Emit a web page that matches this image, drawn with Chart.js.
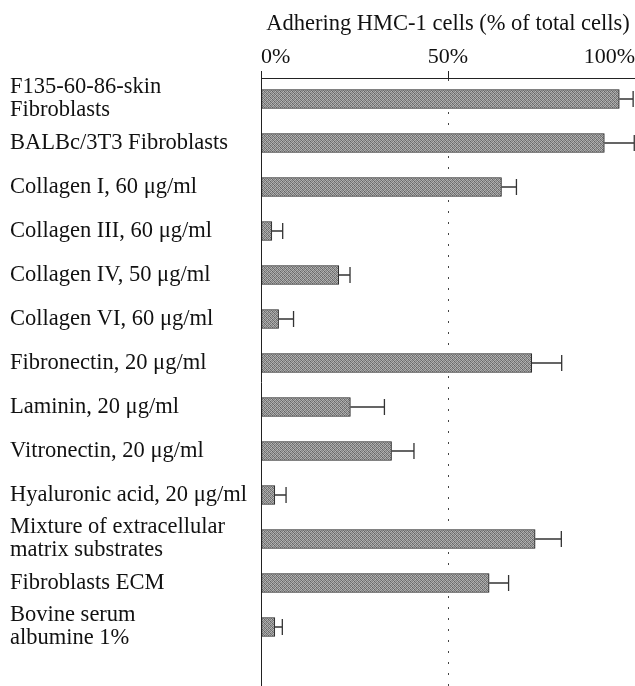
<!DOCTYPE html>
<html>
<head>
<meta charset="utf-8">
<script src="https://cdn.jsdelivr.net/npm/chart.js@4.4.1/dist/chart.umd.min.js"></script>
<style>
	html, body { margin: 0; padding: 0; background: #fff; }
	#wrap { width: 635px; height: 686px; position: relative; }
</style>
</head>
<body>
<div id="wrap"><canvas id="chart-adhesion"></canvas></div>
<script>
const categories = [
	["F135-60-86-skin", "Fibroblasts"],
	"BALBc/3T3 Fibroblasts",
	"Collagen I, 60 μg/ml",
	"Collagen III, 60 μg/ml",
	"Collagen IV, 50 μg/ml",
	"Collagen VI, 60 μg/ml",
	"Fibronectin, 20 μg/ml",
	"Laminin, 20 μg/ml",
	"Vitronectin, 20 μg/ml",
	"Hyaluronic acid, 20 μg/ml",
	["Mixture of extracellular", "matrix substrates"],
	"Fibroblasts ECM",
	["Bovine serum", "albumine 1%"],
];

// adhering cells, % of total
const values = [95.8, 91.8, 64.3, 2.9, 20.8, 4.7, 72.4, 23.9, 34.9, 3.7, 73.3, 61.0, 3.7];
// one-sided error (SD)
const errors = [3.7, 8.0, 4.0, 2.9, 3.0, 4.0, 8.0, 9.1, 6.0, 3.0, 7.0, 5.2, 2.0];

const xTicks = [0, 50, 100];

const serif = "'Liberation Serif', 'Times New Roman', serif";

const ctx = document.getElementById("chart-adhesion");

// grey halftone look of the scanned bars
const shades = [
	[160, 110, 175, 135],
	[125, 185, 100, 165],
	[175, 135, 160, 115],
	[100, 165, 125, 185],
];
const barFill = (() => {
	const c = document.createElement("canvas");
	c.width = 4;
	c.height = 4;
	const g = c.getContext("2d");
	shades.forEach((row, y) =>
		row.forEach((v, x) => {
			g.fillStyle = `rgb(${v},${v},${v})`;
			g.fillRect(x, y, 1, 1);
		})
	);
	return ctx.getContext("2d").createPattern(c, "repeat");
})();

const errorBars = {
	id: "errorBars",
	afterDatasetsDraw(chart) {
		const { ctx, scales } = chart;
		const meta = chart.getDatasetMeta(0);
		ctx.save();
		ctx.strokeStyle = "#333";
		ctx.lineWidth = 1.3;
		meta.data.forEach((bar, i) => {
			const end = scales.x.getPixelForValue(values[i] + errors[i]);
			ctx.beginPath();
			ctx.moveTo(bar.x, bar.y);
			ctx.lineTo(end, bar.y);
			ctx.moveTo(end, bar.y - 8);
			ctx.lineTo(end, bar.y + 8);
			ctx.stroke();
		});
		ctx.restore();
	},
};

const data = {
	labels: categories.map((_, i) => i),
	datasets: [
		{
			data: values,
			backgroundColor: barFill,
			borderColor: "#222",
			borderWidth: 1,
			borderSkipped: false,
			barThickness: 19,
		},
	],
};

const options = {
	indexAxis: "y",
	responsive: true,
	maintainAspectRatio: false,
	animation: false,
	layout: { padding: { left: 10, right: 0, top: 0, bottom: 0 } },
	plugins: {
		legend: { display: false },
		tooltip: { enabled: false },
	},
	scales: {
		x: {
			position: "top",
			min: 0,
			max: 100,
			afterBuildTicks: (scale) => {
				scale.ticks = xTicks.map((v) => ({ value: v }));
			},
			afterFit: (scale) => {
				scale.height = 78;
				scale.paddingLeft = 0;
				scale.paddingRight = 0;
			},
			title: {
				display: true,
				text: "Adhering HMC-1 cells (% of total cells)",
				color: "#111",
				font: { family: serif, size: 22.5 },
				padding: { top: 11, bottom: 0 },
			},
			ticks: {
				align: "inner",
				padding: 1,
				maxRotation: 0,
				autoSkip: false,
				color: "#111",
				font: { family: serif, size: 22 },
				callback: (v) => v + "%",
			},
			grid: {
				color: (c) => (c.tick && c.tick.value === 50 ? "#444" : "rgba(0,0,0,0)"),
				tickColor: "#222",
				tickLength: 7,
				lineWidth: 1,
			},
			border: { display: true, color: "#222", width: 1, dash: [2, 9] },
		},
		y: {
			type: "linear",
			reverse: true,
			offset: false,
			bounds: "data",
			min: -0.477,
			max: 13.341,
			afterDataLimits: (scale) => {
				scale.min = -0.477;
				scale.max = 13.341;
			},
			afterBuildTicks: (scale) => {
				scale.ticks = categories.map((_, i) => ({ value: i }));
				scale.min = -0.477;
				scale.max = 13.341;
			},
			afterFit: (scale) => {
				scale.width = 251;
				scale.paddingTop = 0;
				scale.paddingBottom = 0;
			},
			ticks: {
				crossAlign: "far",
				autoSkip: false,
				color: "#111",
				font: { family: serif, size: 22.5, lineHeight: 1.03 },
				callback: (v) => categories[v],
			},
			grid: { display: false },
			border: { display: true, color: "#222", width: 1 },
		},
	},
};

new Chart(ctx, {
	type: "bar",
	data: data,
	options: options,
	plugins: [errorBars],
});
</script>
</body>
</html>
